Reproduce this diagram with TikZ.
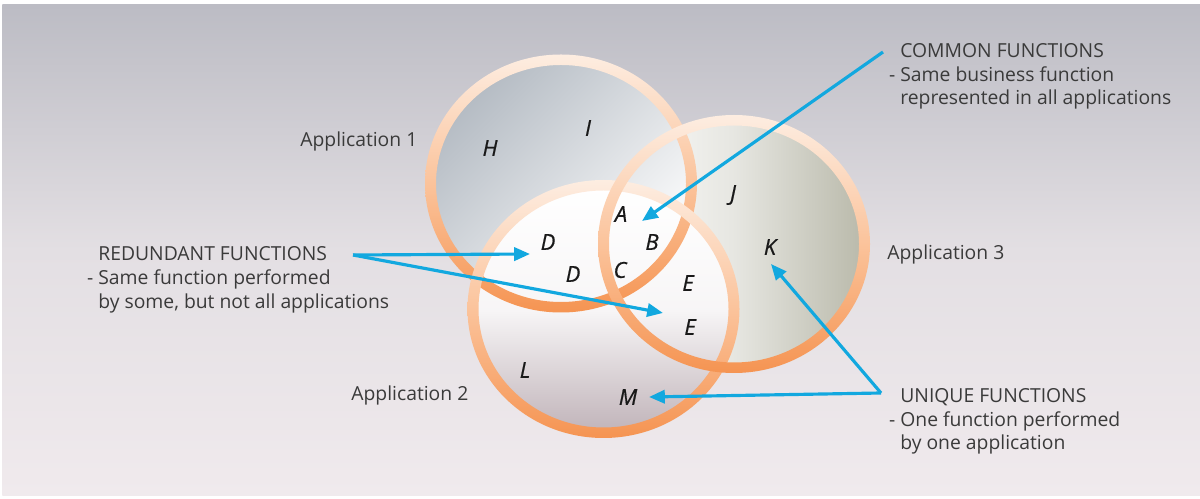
\documentclass[tikz,border=0pt]{standalone}
\usepackage{fontspec}
\setmainfont{Open Sans}
\usetikzlibrary{arrows.meta}
\definecolor{bgtop}{HTML}{BCBCC4}
\definecolor{bgmid}{HTML}{E3DFE3}
\definecolor{bgbot}{HTML}{F0EAED}
\definecolor{ringtop}{HTML}{FDEDE1}
\definecolor{ringmid}{HTML}{FBC39B}
\definecolor{ringbot}{HTML}{F59452}
\definecolor{fillone}{HTML}{B4BBC3}
\definecolor{filltwo}{HTML}{C0B3B9}
\definecolor{fillthree}{HTML}{B9B9AA}
\definecolor{ptrblue}{HTML}{12A8DF}
\definecolor{txt}{HTML}{3A3A3A}
\tikzset{
  ring/.style ={top color=ringtop,bottom color=ringbot,middle color=ringmid,even odd rule},
  fn/.style   ={font=\fontsize{12.5}{14}\selectfont\itshape\addfontfeatures{FakeBold=0.7},
                text=black!90,inner sep=0pt},
  app/.style  ={font=\fontsize{11}{13.6}\selectfont,text=txt,inner sep=0pt},
  note/.style ={app,align=left},
  ptr/.style  ={draw=ptrblue,line width=1.8pt,-{Triangle[length=9pt,width=7.5pt]}},
}

\begin{document}
\begin{tikzpicture}[x=0.02cm,y=-0.02cm]
  \useasboundingbox (0,0) rectangle (1200,499);
  \shade[top color=bgtop,bottom color=bgbot,middle color=bgmid] (2.5,5) rectangle (1200,496);

  \coordinate (c1) at (561,183.5);
  \coordinate (c2) at (603.5,309);
  \coordinate (c3) at (734,244);

  % circle fills
  \shade[left color=white,right color=fillthree,middle color=white!65!fillthree]
    (c3) ellipse [x radius=131,y radius=124];
  \shade[top color=fillone,bottom color=white,shading angle=45]
    (c1) ellipse [x radius=131,y radius=124];
  \shade[top color=white,bottom color=filltwo,middle color=white!88!filltwo]
    (c2) ellipse [x radius=131,y radius=124];

  % rings
  \shade[ring] (c1) ellipse [x radius=136,y radius=129] (c1) ellipse [x radius=125,y radius=118.5];
  \shade[ring] (c2) ellipse [x radius=136,y radius=129] (c2) ellipse [x radius=125,y radius=118.5];
  \shade[ring] (c3) ellipse [x radius=136,y radius=129] (c3) ellipse [x radius=125,y radius=118.5];

  % function letters
  \node[fn] (H)  at (490,148) {H};
  \node[fn] (I)  at (588,128) {I};
  \node[fn] (J)  at (733,195) {J};
  \node[fn] (K)  at (770,247) {K};
  \node[fn] (A)  at (621,214) {A};
  \node[fn] (B)  at (652,242) {B};
  \node[fn] (C)  at (620,270) {C};
  \node[fn] (D1) at (548,242) {D};
  \node[fn] (D2) at (573,274) {D};
  \node[fn] (E1) at (688,283) {E};
  \node[fn] (E2) at (690,327) {E};
  \node[fn] (L)  at (525,370) {L};
  \node[fn] (M)  at (628,397) {M};

  % application names
  \node[app,anchor=base west] (app1) at (300,147) {Application 1};
  \node[app,anchor=base west] (app2) at (351,401) {Application 2};
  \node[app,anchor=base west] (app3) at (887,260) {Application 3};

  % notes (anchored on their last line)
  \node[note,anchor=base west] (common) at (900,105)
    {COMMON FUNCTIONS\\\llap{- }Same business function\\represented in all applications};
  \node[note,anchor=base west] (redund) at (98,308.5)
    {REDUNDANT FUNCTIONS\\\llap{- }Same function performed\\by some, but not all applications};
  \node[note,anchor=base west] (unique) at (900,450)
    {UNIQUE FUNCTIONS\\\llap{- }One function performed\\by one application};

  % pointers
  \coordinate (comsrc)  at (883,52);
  \coordinate (comtip)  at (642,221);
  \coordinate (redsrc)  at (353,255);
  \coordinate (redtipa) at (530,254);
  \coordinate (redtipb) at (663,313);
  \coordinate (unisrc)  at (881,393);
  \coordinate (unitipa) at (771,264);
  \coordinate (unitipb) at (649,397);
  \draw[ptr] (comsrc) -- (comtip);
  \draw[ptr] (redsrc) -- (redtipa);
  \draw[ptr] (redsrc) -- (redtipb);
  \draw[ptr] (unisrc) -- (unitipa);
  \draw[ptr] (unisrc) -- (unitipb);
\end{tikzpicture}
\end{document}
